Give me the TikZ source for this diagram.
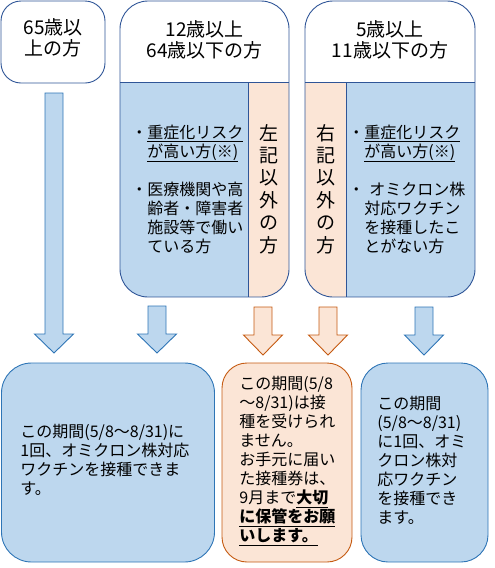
\documentclass[tikz,border=0pt]{standalone}
\usepackage{fontspec}
\setmainfont{Noto Sans CJK JP}
\definecolor{grpborder}{HTML}{2F5597}
\definecolor{bluefill}{HTML}{BDD7EE}
\definecolor{blueline}{HTML}{2E75B6}
\definecolor{peachfill}{HTML}{FBE5D6}
\definecolor{peachline}{HTML}{C55A11}
\newcommand\blockarrowdown[5]{%
  \draw[#5] (#1-9,#2) -- (#1+9,#2) -- (#1+9,#3) -- (#1+19.5,#3) -- (#1,#4) -- (#1-19.5,#3) -- (#1-9,#3) -- cycle;}
\begin{document}
\begin{tikzpicture}[x=1pt,y=-1pt,line width=0.9pt,
  hdr/.style={font=\fontsize{19}{21.5}\selectfont, align=center, inner sep=0},
  bodytext/.style={font=\fontsize{16}{19}\selectfont, align=left, inner sep=0, anchor=west},
  verttext/.style={font=\fontsize{19}{22.4}\selectfont, align=center, inner sep=0},
  bluearrow/.style={fill=bluefill, draw=blueline},
  peacharrow/.style={fill=peachfill, draw=peachline},
  bluebox/.style={draw=blueline, fill=bluefill},
  peachbox/.style={draw=peachline, fill=peachfill}]
\useasboundingbox (0,0) rectangle (495,568);

% top-left box
\node[draw=grpborder, fill=white, rounded corners=20pt, minimum width=104pt, minimum height=82pt] (age65) at (53,42) {};
\node[hdr] (age65t) at (53,38) {65歳以\\上の方};

% middle group
\begin{scope}
\clip[rounded corners=28pt] (120,1) rectangle (289,297);
\fill[bluefill] (120,82) rectangle (248,297);
\fill[peachfill] (248,82) rectangle (289,297);
\end{scope}
\draw[grpborder, rounded corners=28pt] (120,1) rectangle (289,297);
\draw[grpborder] (120,82) -- (289,82);
\draw[grpborder] (248,82) -- (248,297);
\node[hdr] (midhdr) at (204.5,40) {12歳以上\\64歳以下の方};
\node[verttext] (midother) at (268.5,189) {左\\記\\以\\外\\の\\方};
\node[bodytext] (midrisk) at (147,189) {\llap{・}\underline{重症化リスク}\\\underline{が高い方(※)}\\\mbox{}\\\llap{・}医療機関や高\\齢者・障害者\\施設等で働い\\ている方};

% right group
\begin{scope}
\clip[rounded corners=28pt] (305,1) rectangle (475,297);
\fill[peachfill] (305,82) rectangle (346,297);
\fill[bluefill] (346,82) rectangle (475,297);
\end{scope}
\draw[grpborder, rounded corners=28pt] (305,1) rectangle (475,297);
\draw[grpborder] (305,82) -- (475,82);
\draw[grpborder] (346,82) -- (346,297);
\node[hdr] (righthdr) at (390,40) {5歳以上\\11歳以下の方};
\node[verttext] (rightother) at (325.5,189) {右\\記\\以\\外\\の\\方};
\node[bodytext] (rightrisk) at (364,189) {\llap{・}\underline{重症化リスク}\\\underline{が高い方(※)}\\\mbox{}\\\llap{・}\hspace{5pt}オミクロン株\\対応ワクチン\\を接種したこ\\とがない方};

% arrows
\blockarrowdown{54}{93}{334}{353}{bluearrow}
\blockarrowdown{157}{306}{334}{353}{bluearrow}
\blockarrowdown{263}{307}{335}{355}{peacharrow}
\blockarrowdown{328}{307}{335}{355}{peacharrow}
\blockarrowdown{424}{307}{335}{355}{bluearrow}

% bottom boxes
\node[bluebox, rounded corners=30pt, minimum width=213pt, minimum height=199pt] (res1) at (108,462.5) {};
\node[bodytext] (res1t) at (20,460) {この期間(5/8〜8/31)に\\1回、オミクロン株対応\\ワクチンを接種できま\\す。};

\node[peachbox, rounded corners=25pt, minimum width=130pt, minimum height=199pt] (res2) at (287,462.5) {};
\node[bodytext] (res2t) at (239,461) {この期間(5/8\\〜8/31)は接\\種を受けられ\\ません。\\お手元に届い\\た接種券は、\\9月まで\underline{\textbf{大切}}\\\underline{\textbf{に保管をお願}}\\\underline{\textbf{いします。}}};

\node[bluebox, rounded corners=27pt, minimum width=127pt, minimum height=199pt] (res3) at (424.5,462.5) {};
\node[bodytext] (res3t) at (377,460) {この期間\\(5/8〜8/31)\\に1回、オミ\\クロン株対\\応ワクチン\\を接種でき\\ます。};
\end{tikzpicture}
\end{document}
